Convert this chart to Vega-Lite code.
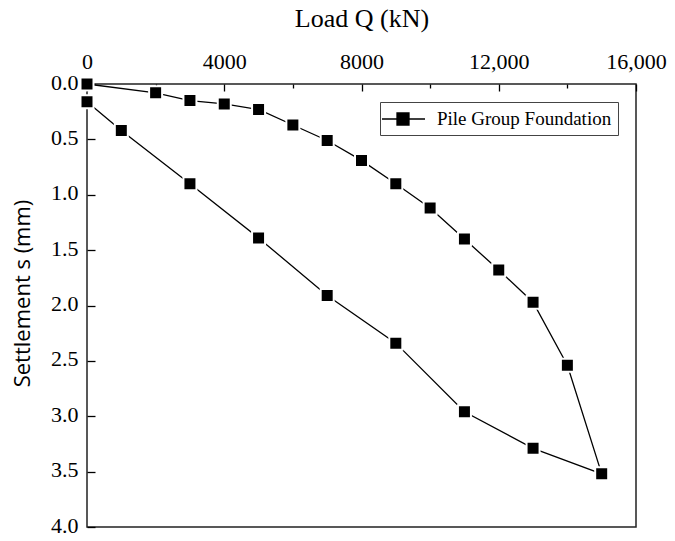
{
  "$schema": "https://vega.github.io/schema/vega-lite/v6.json",
  "width": 549,
  "height": 443,
  "autosize": "none",
  "padding": {"left": 87, "top": 84, "right": 39, "bottom": 14},
  "background": "white",
  "config": {
    "view": {"stroke": "#222222", "strokeWidth": 1.5},
    "font": "Liberation Serif"
  },
  "data": {
    "values": [
      {"step": 1, "Q": 0, "s": 0.0},
      {"step": 2, "Q": 2000, "s": 0.08},
      {"step": 3, "Q": 3000, "s": 0.15},
      {"step": 4, "Q": 4000, "s": 0.18},
      {"step": 5, "Q": 5000, "s": 0.23},
      {"step": 6, "Q": 6000, "s": 0.37},
      {"step": 7, "Q": 7000, "s": 0.51},
      {"step": 8, "Q": 8000, "s": 0.69},
      {"step": 9, "Q": 9000, "s": 0.9},
      {"step": 10, "Q": 10000, "s": 1.12},
      {"step": 11, "Q": 11000, "s": 1.4},
      {"step": 12, "Q": 12000, "s": 1.68},
      {"step": 13, "Q": 13000, "s": 1.97},
      {"step": 14, "Q": 14000, "s": 2.54},
      {"step": 15, "Q": 15000, "s": 3.52},
      {"step": 16, "Q": 13000, "s": 3.29},
      {"step": 17, "Q": 11000, "s": 2.96},
      {"step": 18, "Q": 9000, "s": 2.34},
      {"step": 19, "Q": 7000, "s": 1.91},
      {"step": 20, "Q": 5000, "s": 1.39},
      {"step": 21, "Q": 3000, "s": 0.9},
      {"step": 22, "Q": 1000, "s": 0.42},
      {"step": 23, "Q": 0, "s": 0.16}
    ]
  },
  "mark": {
    "type": "line",
    "strokeWidth": 1.3,
    "clip": false,
    "point": {"shape": "square", "size": 169, "filled": true, "stroke": "white", "strokeWidth": 2, "fill": "black"}
  },
  "encoding": {
    "x": {
      "field": "Q",
      "type": "quantitative",
      "scale": {"domain": [0, 16000], "nice": false, "zero": false},
      "axis": {
        "orient": "top",
        "title": "Load Q (kN)",
        "titleFont": "Liberation Serif",
        "titleFontSize": 26,
        "titleFontWeight": "normal",
        "titleColor": "black",
        "titlePadding": 16,
        "values": [0, 2000, 4000, 6000, 8000, 10000, 12000, 14000, 16000],
        "labelExpr": "datum.value % 4000 != 0 ? '' : (datum.value >= 10000 ? format(datum.value, ',') : format(datum.value, 'd'))",
        "labelFontSize": 22,
        "labelColor": "black",
        "labelPadding": 18,
        "labelFlush": false,
        "labelOverlap": false,
        "tickSize": {"expr": "datum.value % 4000 == 0 ? -7 : -4"},
        "tickColor": "black",
        "tickWidth": 1.3,
        "domain": false,
        "grid": false
      }
    },
    "y": {
      "field": "s",
      "type": "quantitative",
      "scale": {"domain": [0, 4], "reverse": true, "nice": false, "zero": false},
      "axis": {
        "title": "Settlement s (mm)",
        "titleFont": "Open Sans",
        "titleFontSize": 22,
        "titleFontWeight": "normal",
        "titleColor": "black",
        "titlePadding": 16,
        "titleY": 209,
        "values": [0, 0.5, 1, 1.5, 2, 2.5, 3, 3.5, 4],
        "format": ".1f",
        "labelFontSize": 22,
        "labelColor": "black",
        "labelPadding": 17,
        "labelOffset": -2,
        "labelFlush": false,
        "labelOverlap": false,
        "tickSize": -8,
        "tickColor": "black",
        "tickWidth": 1.3,
        "domain": false,
        "grid": false
      }
    },
    "order": {"field": "step", "type": "quantitative"},
    "color": {
      "datum": "Pile Group Foundation",
      "type": "nominal",
      "scale": {"range": ["black"]},
      "legend": {
        "title": null,
        "orient": "top-right",
        "offset": 18,
        "strokeColor": "#444444",
        "padding": 6,
        "symbolType": "M-1.5,0L2.8,0M0,-0.6L1.2,-0.6L1.2,0.6L0,0.6Z",
        "symbolSize": 400,
        "symbolStrokeWidth": 1.3,
        "labelFont": "Liberation Serif",
        "labelFontSize": 19,
        "labelLimit": 300,
        "labelColor": "black",
        "labelOffset": 29
      }
    }
  }
}
